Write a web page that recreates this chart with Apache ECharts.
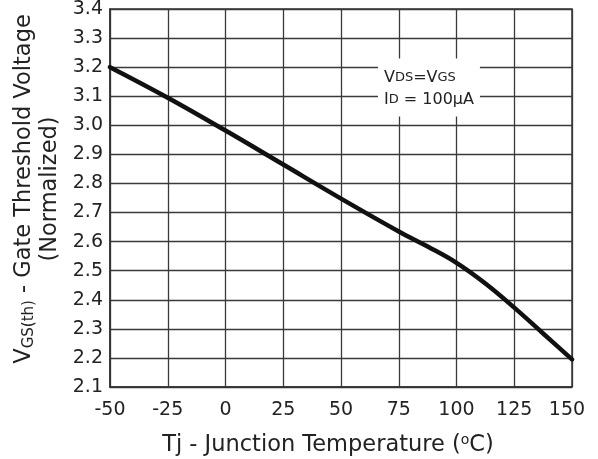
<!DOCTYPE html>
<html><head><meta charset="utf-8">
<script src="https://cdn.jsdelivr.net/npm/echarts@6/dist/echarts.min.js"></script>
<style>html,body{margin:0;padding:0;background:#fff}#c{width:598px;height:459px}</style>
</head><body><div id="c"></div>
<script>
const temperatures = [-50, -25, 0, 25, 50, 75, 87.5, 100, 112.5, 125, 137.5, 150];
const vgsNormalized = [3.20, 3.095, 2.982, 2.865, 2.748, 2.635, 2.583, 2.527, 2.456, 2.373, 2.284, 2.195];
const xTicks = [-50, -25, 0, 25, 50, 75, 100, 125, 150];
const yTicks = [2.1, 2.2, 2.3, 2.4, 2.5, 2.6, 2.7, 2.8, 2.9, 3.0, 3.1, 3.2, 3.3, 3.4];

const FONT = 'DejaVu Sans';
const chart = echarts.init(document.getElementById('c'), null, {renderer: 'canvas'});
const gridLine = {show: true, lineStyle: {color: '#3a3a3a', width: 1.3}};
const lastX = xTicks[xTicks.length - 1];
chart.setOption({
  animation: false,
  backgroundColor: '#fff',
  grid: {left: 110, right: 26, top: 9, bottom: 72, show: true, borderColor: '#333', borderWidth: 1.5,
         containLabel: false, outerBoundsMode: 'none'},
  xAxis: {
    type: 'value', min: xTicks[0], max: lastX, interval: 25,
    axisLine: {show: true, onZero: false, lineStyle: {color: '#333', width: 1.5}},
    axisTick: {show: false},
    splitLine: gridLine,
    axisLabel: {
      fontFamily: FONT, fontSize: 19, color: '#222', margin: 14,
      formatter: v => v === lastX ? '{e|' + v + '}' : '{d|' + v + '}',
      rich: {
        d: {fontFamily: FONT, fontSize: 19, color: '#222'},
        e: {fontFamily: FONT, fontSize: 19, color: '#222', padding: [0, 10, 0, 0]}
      }
    },
    name: '{n|Tj - Junction Temperature (}{s|o}{n|C)}',
    nameLocation: 'middle', nameGap: 46,
    nameTextStyle: {padding: [0, 26, 0, 0], rich: {
      n: {fontFamily: FONT, fontSize: 22.5, color: '#222'},
      s: {fontFamily: FONT, fontSize: 14, color: '#222', verticalAlign: 'top', padding: [0, 0, 10, 0]}
    }}
  },
  yAxis: {
    type: 'value', min: yTicks[0], max: yTicks[yTicks.length - 1], interval: 0.1,
    axisLine: {show: true, onZero: false, lineStyle: {color: '#333', width: 1.5}},
    axisTick: {show: false},
    splitLine: gridLine,
    axisLabel: {fontFamily: FONT, fontSize: 19, color: '#222', margin: 7, formatter: v => v.toFixed(1)},
    name: '{n|V}{s|GS(th)}{n| - Gate Threshold Voltage}\n{n|(Normalized)}',
    nameLocation: 'middle', nameGap: 47, nameRotate: 90,
    nameTextStyle: {align: 'center', padding: [0, 0, 0, 18], rich: {
      n: {fontFamily: FONT, fontSize: 22.5, color: '#222', lineHeight: 26, align: 'center'},
      s: {fontFamily: FONT, fontSize: 15, color: '#222', lineHeight: 26, verticalAlign: 'bottom'}
    }}
  },
  series: [{
    type: 'line',
    data: temperatures.map((t, i) => [t, vgsNormalized[i]]),
    smooth: 0.4,
    symbol: 'none',
    lineStyle: {color: '#111', width: 4.5, cap: 'round'},
    markPoint: {
      symbol: 'rect', symbolSize: 0,
      data: [{coord: [66, 3.13]}],
      label: {
        show: true, position: 'inside',
        backgroundColor: '#fff', padding: [8, 6, 6, 6], align: 'left', lineHeight: 22,
        formatter: '{b|V}{s|DS}{b|=V}{s|GS}\n{b|I}{s|D}{b| = 100µA}',
        rich: {
          b: {fontFamily: FONT, fontSize: 16, color: '#222', lineHeight: 22},
          s: {fontFamily: FONT, fontSize: 13, color: '#222', lineHeight: 22}
        }
      }
    }
  }]
});
</script></body></html>
